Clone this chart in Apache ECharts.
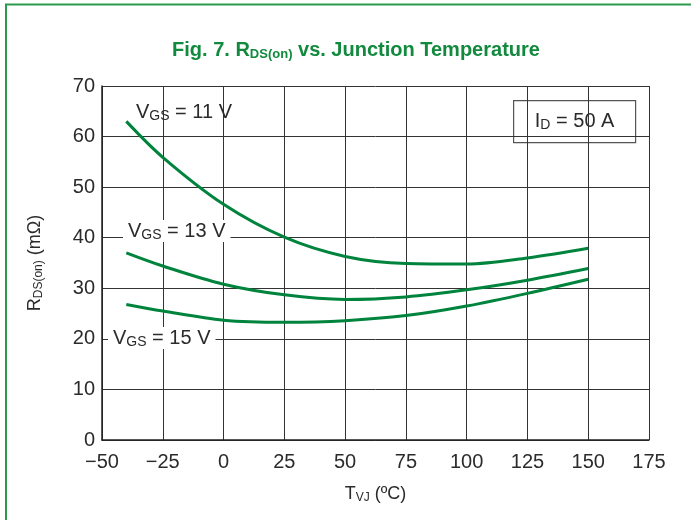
<!DOCTYPE html>
<html>
<head>
<meta charset="utf-8">
<script src="https://cdn.jsdelivr.net/npm/echarts@6/dist/echarts.min.js"></script>
<style>
  html, body { margin: 0; padding: 0; background: #fff; }
  #chart { width: 691px; height: 520px; }
</style>
</head>
<body>
<div id="chart"></div>
<script>
// 数据: 结温 T (°C) 与 RDS(on) (mΩ)
const vgs11 = [[-40, 63.0], [-25, 55.9], [0, 46.6], [25, 40.1], [50, 36.3], [75, 34.9], [100, 34.8], [125, 36.0], [150, 37.9]];
const vgs13 = [[-40, 37.0], [-25, 34.4], [0, 30.8], [25, 28.7], [50, 27.8], [75, 28.3], [100, 29.7], [125, 31.6], [150, 33.9]];
const vgs15 = [[-40, 26.8], [-25, 25.5], [0, 23.7], [25, 23.3], [50, 23.6], [75, 24.6], [100, 26.5], [125, 29.0], [150, 31.8]];
const xTicks = [-50, 175, 25];   // min, max, interval
const yTicks = [0, 70, 10];

const GREEN = "#00843d";
const FONT = "'Liberation Sans', Arial, sans-serif";
const TXT = "#2b2b2b";

const chart = echarts.init(document.getElementById("chart"));

// 曲线标签
function label(left, top, num, bg) {
  return {
    type: "text",
    left: left,
    top: top,
    z: 100,
    style: {
      rich: {
        m: { fontSize: 20, fontFamily: FONT, fill: TXT },
        s: { fontSize: 14, fontFamily: FONT, fill: TXT, padding: [8, 0, 0, 0] }
      },
      text: "{m|V}{s|GS}{m| = " + num + " V}",
      backgroundColor: bg ? "#fff" : "transparent",
      padding: bg ? [0, 5, 0, 5] : 0
    }
  };
}

const line = (data) => ({
  type: "line",
  data: data,
  smooth: 0.33,
  showSymbol: false,
  lineStyle: { color: GREEN, width: 3 },
  z: 5
});

const option = {
  animation: false,
  title: {
    left: 351,
    textAlign: "center",
    top: 35,
    text: "{m|Fig. 7. R}{s|DS(on)}{m| vs. Junction Temperature}",
    textStyle: {
      rich: {
        m: { fontSize: 20, fontWeight: "bold", color: "#128a3e", fontFamily: "'Liberation Sans Narrow', " + FONT },
        s: { fontSize: 13, fontWeight: "bold", color: "#128a3e", fontFamily: "'Liberation Sans Narrow', " + FONT, padding: [8, 0, 0, 0] }
      }
    }
  },
  grid: { left: 102, right: 42, top: 86, bottom: 80 },
  xAxis: {
    type: "value",
    min: xTicks[0],
    max: xTicks[1],
    interval: xTicks[2],
    name: "{m|T}{s|VJ}{m| (ºC)}",
    nameLocation: "middle",
    nameGap: 44,
    nameTextStyle: {
      rich: {
        m: { fontSize: 18, fontFamily: FONT, color: TXT },
        s: { fontSize: 12, fontFamily: FONT, color: TXT, padding: [8, 0, 0, 0] }
      }
    },
    axisLine: { onZero: false, lineStyle: { color: "#222", width: 1.5 } },
    axisTick: { show: false },
    axisLabel: {
      margin: 12,
      fontSize: 20,
      fontFamily: FONT,
      color: TXT,
      formatter: (v) => String(v).replace("-", "\u2212")
    },
    splitLine: { lineStyle: { color: "#333", width: 1 } }
  },
  yAxis: {
    type: "value",
    min: yTicks[0],
    max: yTicks[1],
    interval: yTicks[2],
    name: "{m|R}{s|DS(on)}{m| (mΩ)}",
    nameLocation: "middle",
    nameRotate: 90,
    nameGap: 57,
    nameTextStyle: {
      rich: {
        m: { fontSize: 18, fontFamily: FONT, color: TXT },
        s: { fontSize: 12, fontFamily: FONT, color: TXT, padding: [8, 0, 0, 0] }
      }
    },
    axisLine: { show: true, onZero: false, lineStyle: { color: "#222", width: 1.5 } },
    axisTick: { show: false },
    axisLabel: { margin: 7, fontSize: 20, fontFamily: FONT, color: TXT },
    splitLine: { lineStyle: { color: "#333", width: 1 } }
  },
  graphic: [
    // 外框
    {
      type: "polyline",
      shape: { points: [[6, 520], [6, 4.5], [691, 4.5]] },
      style: { stroke: "#2a9a4c", lineWidth: 2, fill: null }
    },
    label(136, 101, "11", false),
    label(123, 220, "13", true),
    label(108, 327, "15", true),
    {
      type: "group",
      left: 513,
      top: 100,
      z: 100,
      children: [
        {
          type: "rect",
          shape: { x: 0, y: 0, width: 122, height: 42 },
          style: { fill: "#fff", stroke: "#555", lineWidth: 1.2 }
        },
        {
          type: "text",
          x: 61,
          y: 21,
          style: {
            rich: {
              m: { fontSize: 20, fontFamily: FONT, fill: TXT },
              s: { fontSize: 14, fontFamily: FONT, fill: TXT, padding: [8, 0, 0, 0] }
            },
            text: "{m|I}{s|D}{m| = 50 A}",
            align: "center",
            verticalAlign: "middle"
          }
        }
      ]
    }
  ],
  series: [line(vgs11), line(vgs13), line(vgs15)]
};

chart.setOption(option);
</script>
</body>
</html>
